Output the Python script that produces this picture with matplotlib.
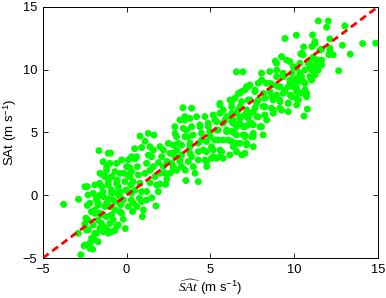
import numpy as np
import matplotlib
matplotlib.use('Agg')
import matplotlib.pyplot as plt

# points, (SAt_hat, SAt) in m/s, grouped by cloud region
low_pts = [
    (-3.76, -0.72), (-2.87, -0.32), (-2.73, -4.74), (-2.53, -4.03), (-2.03, -4.29), (-2.35, 0.69),
    (-2.35, -0.80), (-2.43, -1.83), (-2.29, -2.75), (-2.09, -3.42), (-2.19, -3.81), (-1.91, -3.55),
    (-1.79, -3.02), (-1.71, -1.96), (-1.59, -1.43), (-1.99, 0.16), (-1.79, -0.37), (-1.65, 3.55),
    (-1.59, 1.75), (-1.49, 0.69), (-1.39, -0.11), (-1.29, -0.90), (-1.19, -1.70), (-1.39, -2.49),
    (-1.09, -3.02), (-1.59, -2.62), (-1.89, -1.17), (-1.69, -0.64), (-1.00, 2.54), (-1.19, 2.28),
    (-0.96, 3.36), (-1.29, 1.48), (-1.09, 1.09), (-0.90, 0.42), (-0.80, -0.37), (-0.70, -1.17),
    (-0.80, -1.96), (-0.60, -2.49), (-0.90, -1.56), (-1.00, -0.90), (-0.70, 1.88), (-0.60, 2.54),
    (-0.56, 1.22), (-0.50, 0.69), (-0.40, -0.11), (-0.36, -0.77), (-0.30, -1.43), (-0.08, -2.65),
    (-0.20, -0.37), (-0.16, 1.75), (-0.10, 1.09), (-0.04, 0.42), (0.00, 2.28), (0.10, 2.81),
    (0.20, 1.48), (0.24, 0.82), (0.30, 0.16), (0.40, -0.64), (0.36, -1.30), (0.48, 3.71),
    (0.80, 4.71), (0.60, 3.07), (0.64, 2.28), (0.70, 1.62), (0.80, 0.95), (0.90, 0.29),
    (0.76, -0.24), (0.94, -1.70), (1.00, -1.17), (1.19, -0.37), (1.09, 1.75), (1.19, 2.54),
    (1.29, 4.93), (1.63, 4.79), (1.39, 3.87), (1.49, 3.07), (1.59, 2.28), (1.69, 1.48),
    (1.75, -0.85), (1.79, 0.82), (1.89, 0.29), (1.99, 3.87), (2.09, 3.07), (2.19, 2.28),
    (2.33, 0.87), (2.29, 1.75), (1.99, 1.75), (-2.49, 0.68), (-1.90, 0.82), (-2.30, 0.02),
    (-1.80, -0.20), (-1.10, 3.34), (-1.40, 2.67), (-1.20, 2.01), (-0.30, 2.81), (0.30, 3.07),
    (-1.40, 1.61), (-0.90, 1.48), (-0.40, 1.75), (0.09, 1.61), (-1.60, 0.95), (-1.10, 0.82),
    (-0.60, 0.95), (0.39, 1.08), (-1.40, 0.28), (-0.90, 0.15), (-0.40, 0.28), (0.10, 0.28),
    (-2.19, -0.64), (-1.70, -0.78), (-1.20, -0.64), (-0.70, -0.51), (-0.21, -0.38), (0.28, -0.38),
    (-1.90, -1.44), (-1.40, -1.57), (-0.40, -1.31), (-2.30, -1.97), (-2.00, -2.37), (-1.50, -2.24),
    (-1.00, -2.24), (-0.50, -2.37), (-2.39, -2.77), (-1.90, -3.03), (-1.40, -2.90), (-0.90, -2.90),
    (-2.00, -3.43), (-1.70, -3.70), (-2.49, -3.96), (-2.89, -3.03), (-2.19, -4.23), (1.60, 3.60),
    (1.90, 2.60), (2.00, 0.90), (2.40, 2.70), (2.20, 3.60), (1.40, 1.00), (1.20, 0.30),
    (1.50, -0.20), (2.40, 1.30), (1.30, 3.20), (0.90, 3.80), (0.50, 2.90), (0.20, 2.20),
    (1.10, 4.30), (0.10, -0.90), (-0.20, -1.90), (0.60, -0.90), (0.90, -0.50), (0.50, 0.40),
    (1.40, 2.00), (0.30, 1.90), (-0.60, 0.20), (-1.10, -0.30), (-1.60, 0.00), (-2.10, -1.30),
    (-2.50, -2.30), (-1.20, -2.70), (-0.70, -2.80),
]

mid_pts = [
    (2.49, 4.13), (2.59, 3.34), (2.69, 2.54), (2.79, 2.01), (2.89, 3.07), (2.99, 3.60),
    (3.08, 4.13), (3.18, 2.81), (3.28, 2.28), (3.36, 6.97), (3.18, 5.99), (3.48, 5.99),
    (3.54, 1.17), (3.58, 5.19), (3.68, 4.66), (3.78, 3.87), (3.88, 3.07), (3.98, 2.28),
    (4.08, 1.75), (4.18, 6.25), (4.28, 1.09), (4.38, 5.46), (4.48, 4.40), (4.58, 3.60),
    (4.68, 2.81), (4.78, 2.28), (4.88, 5.46), (4.98, 4.66), (5.07, 3.87), (5.17, 3.07),
    (5.27, 5.99), (5.37, 5.19), (5.47, 4.40), (5.57, 3.60), (5.37, 2.94), (2.59, 1.75),
    (2.89, 4.93), (3.78, 6.12), (3.88, 6.93), (3.48, 6.26), (4.67, 6.26), (5.17, 6.39),
    (5.57, 6.53), (5.97, 6.26), (2.88, 5.46), (3.38, 5.33), (3.88, 5.46), (4.37, 5.60),
    (4.87, 5.73), (5.37, 5.86), (5.76, 5.73), (2.98, 4.67), (3.48, 4.67), (3.97, 4.80),
    (4.47, 4.94), (4.97, 5.07), (5.47, 5.20), (5.97, 5.07), (2.78, 4.00), (3.28, 4.00),
    (3.78, 4.14), (4.28, 4.14), (4.77, 4.28), (5.27, 4.40), (5.76, 4.40), (2.78, 3.34),
    (3.28, 3.21), (3.78, 3.34), (4.28, 3.47), (4.77, 3.47), (5.17, 3.61), (5.67, 3.47),
    (3.18, 2.68), (3.68, 2.68), (4.28, 2.81), (4.77, 2.68), (5.07, 2.94), (5.57, 3.07),
    (2.78, 2.27), (5.76, 2.94), (3.00, 2.00), (3.50, 2.00),
]

upper_pts = [
    (5.57, 7.31), (5.77, 6.78), (5.87, 5.99), (5.97, 5.19), (6.07, 4.40), (6.17, 7.58),
    (6.27, 6.52), (6.37, 5.72), (6.47, 4.93), (6.55, 9.83), (6.95, 9.83), (6.57, 4.13),
    (6.67, 8.11), (6.77, 7.05), (6.87, 6.25), (6.87, 3.21), (6.97, 5.46), (7.06, 4.66),
    (7.16, 8.64), (7.26, 7.58), (7.36, 6.52), (7.46, 5.72), (7.56, 4.66), (7.66, 8.37),
    (7.76, 7.31), (7.86, 6.25), (7.96, 5.46), (8.06, 9.17), (8.16, 8.11), (8.26, 7.05),
    (8.36, 5.99), (7.16, 4.13), (6.37, 3.87), (7.56, 3.87), (8.05, 9.72), (8.55, 9.85),
    (7.86, 8.92), (7.36, 8.78), (7.06, 8.39), (8.35, 8.92), (7.66, 8.25), (6.86, 8.25),
    (6.46, 7.73), (6.86, 7.45), (7.36, 7.59), (7.86, 7.59), (8.25, 7.73), (7.66, 6.93),
    (7.16, 6.79), (6.66, 6.79), (6.27, 7.06), (8.15, 7.06), (8.25, 6.39), (7.76, 6.26),
    (7.26, 6.13), (6.76, 6.13), (6.36, 6.00), (6.56, 5.46), (7.06, 5.46), (7.56, 5.60),
    (8.05, 5.46), (7.56, 4.94), (7.06, 4.80), (6.56, 4.80), (8.15, 4.80), (6.27, 5.08),
    (7.26, 8.65), (6.76, 8.12), (5.57, 7.19), (6.27, 7.45), (6.56, 6.53), (7.06, 6.39),
    (7.56, 6.66), (6.27, 5.86), (6.76, 5.73), (7.26, 5.60), (6.46, 4.94), (6.96, 4.80),
    (7.46, 4.67), (6.27, 4.28), (6.76, 4.14), (7.16, 4.00), (6.16, 3.21), (6.56, 3.47),
    (7.06, 3.34),
]

top_pts = [
    (8.56, 8.90), (8.66, 7.84), (8.76, 6.78), (8.88, 10.68), (8.96, 9.96), (9.05, 8.64),
    (9.15, 7.58), (9.25, 6.78), (9.35, 9.43), (9.45, 12.48), (9.45, 8.37), (9.55, 10.76),
    (9.65, 7.31), (9.75, 8.90), (9.85, 7.84), (9.95, 10.23), (10.05, 9.17), (10.13, 12.74),
    (10.15, 8.37), (10.25, 7.58), (10.35, 9.70), (10.45, 11.29), (10.57, 11.81), (10.59, 6.30),
    (10.65, 8.90), (10.75, 8.11), (10.79, 6.86), (10.94, 10.23), (11.04, 9.17), (11.14, 10.99),
    (11.24, 12.08), (11.44, 13.88), (11.44, 9.96), (11.54, 11.55), (11.64, 10.76), (12.04, 13.88),
    (12.14, 11.55), (12.66, 9.91), (12.88, 11.94), (13.03, 13.48), (13.35, 11.23), (14.09, 12.08),
    (14.87, 12.11), (11.94, 13.38), (12.13, 12.45), (12.13, 11.71), (12.07, 11.20), (12.33, 11.18),
    (11.10, 12.77), (11.24, 12.24), (11.06, 11.84), (11.64, 11.63), (10.54, 11.18), (10.94, 10.78),
    (11.34, 10.78), (11.64, 10.38), (11.24, 10.38), (10.84, 10.50), (10.34, 10.51), (10.15, 10.12),
    (10.64, 9.98), (11.04, 9.98), (10.44, 9.45), (10.94, 9.45), (9.75, 10.64), (9.85, 9.72),
    (9.94, 9.18), (10.24, 9.05), (10.54, 9.05), (10.64, 8.39), (10.44, 8.12), (10.15, 8.25),
    (9.94, 8.65), (9.25, 11.04), (8.95, 10.51), (10.40, 11.25), (10.84, 10.64), (8.95, 9.45),
    (9.35, 9.72), (9.75, 9.18), (10.15, 9.32), (11.24, 9.58), (8.75, 8.78), (9.15, 8.65),
    (9.65, 8.65), (10.15, 8.52), (10.64, 8.25), (10.74, 7.85), (10.15, 7.72), (9.75, 7.99),
    (9.35, 8.12), (8.95, 7.99), (8.55, 8.25), (8.75, 7.59), (9.15, 7.45), (9.65, 7.33),
    (10.15, 7.19), (9.65, 6.66), (9.15, 6.93), (8.65, 6.93), (8.75, 6.53),
]

axis_lims = [-5, 15]
tick_vals = [-5, 0, 5, 10, 15]

plt.rcParams['font.family'] = ['Liberation Sans', 'DejaVu Sans']
plt.rcParams['mathtext.fontset'] = 'custom'
plt.rcParams['mathtext.rm'] = 'Liberation Sans'
plt.rcParams['mathtext.it'] = 'Liberation Serif:italic'
plt.rcParams['mathtext.bf'] = 'Liberation Sans:bold'

pts = np.array(low_pts + mid_pts + upper_pts + top_pts)

fig = plt.figure(figsize=(3.86, 2.98), dpi=100)
ax = fig.add_axes([0.111, 0.134, 0.868, 0.843])

ax.scatter(pts[:, 0], pts[:, 1], s=25, c='lime', edgecolors='none', zorder=2)
ax.plot(axis_lims, axis_lims, '--', color='red', lw=2, dashes=(2.6, 1.6), zorder=3)

ax.set_xlim(axis_lims)
ax.set_ylim(axis_lims)
ax.set_xticks(tick_vals)
ax.set_yticks(tick_vals)
ax.tick_params(direction='in', top=True, right=True, length=3.5, width=0.6,
               labelsize=9.3, pad=4)
for sp in ax.spines.values():
    sp.set_linewidth(0.7)

ax.set_xlabel(r'$\widehat{SAt}$ (m s$^{-1}$)', fontsize=9.5)
ax.set_ylabel('SAt (m s$^{-1}$)', fontsize=9.5)
ax.xaxis.set_label_coords(0.5, -0.078)
ax.yaxis.set_label_coords(-0.07, 0.5)

fig.savefig('out.png', dpi=100)
